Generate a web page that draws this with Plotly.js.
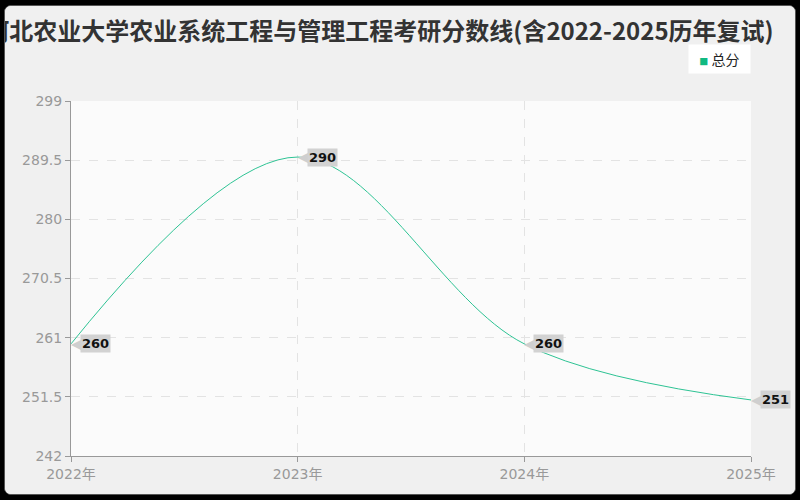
<!DOCTYPE html>
<html>
<head>
<meta charset="utf-8">
<script src="https://cdn.plot.ly/plotly-3.0.1.min.js"></script>
<style>
  html, body { margin: 0; padding: 0; background: #000; }
  #card {
    position: absolute; left: 4px; top: 5px; width: 790px; height: 488px;
    background: #f0f0f0; border: 1px solid #555; border-radius: 7px; overflow: hidden;
  }
  #chart { width: 790px; height: 488px; }
</style>
</head>
<body>
<div id="card"><div id="chart"></div></div>
<script>
// chart data
const years = ['2022年', '2023年', '2024年', '2025年'];
const totalScores = [260, 290, 260, 251];
const yTicks = [242, 251.5, 261, 270.5, 280, 289.5, 299];
const seriesName = '总分';
const titleText = '河北农业大学农业系统工程与管理工程考研分数线(含2022-2025历年复试)';

const lineColor = '#2ec394';
const tickFont = { family: 'DejaVu Sans, Noto Sans CJK SC', size: 14, color: '#999' };

const traces = [
    {
        x: years,
        y: totalScores,
        type: 'scatter',
        mode: 'lines',
        name: seriesName,
        line: { color: lineColor, width: 1, shape: 'spline', smoothing: 1 },
        showlegend: false,
        hoverinfo: 'skip'
    }
];

// value labels: grey tag with a pointer on the left
const annotations = [];
years.forEach((yr, i) => {
    annotations.push({
        x: yr, y: totalScores[i], xref: 'x', yref: 'y',
        text: '◀', showarrow: false, xanchor: 'left', yanchor: 'middle',
        xshift: -2, yshift: 0,
        font: { size: 15, color: '#cfcfcf', family: 'DejaVu Sans' }
    });
    annotations.push({
        x: yr, y: totalScores[i], xref: 'x', yref: 'y',
        text: '<b>' + totalScores[i] + '</b>', showarrow: false,
        xanchor: 'left', yanchor: 'middle', xshift: 9,
        bgcolor: '#d2d2d2', borderpad: 1,
        font: { size: 13, color: '#111', family: 'DejaVu Sans' }
    });
});

// legend box (top right)
annotations.push({
    xref: 'paper', yref: 'paper', x: 1, y: 1.16,
    xanchor: 'right', yanchor: 'top', showarrow: false,
    text: '  <span style="color:#10b981;font-size:9px">■</span> ' + seriesName + '  ',
    bgcolor: '#ffffff', borderpad: 4,
    font: { family: 'Noto Sans CJK SC', size: 14, color: '#222' }
});

const layout = {
    width: 790, height: 488,
    margin: { l: 66, r: 44, t: 95, b: 38 },
    paper_bgcolor: '#f0f0f0',
    plot_bgcolor: '#fbfbfb',
    title: {
        text: titleText,
        x: 0.474, xanchor: 'center', y: 0.947, yanchor: 'middle',
        font: { family: 'Noto Sans CJK SC', size: 24, color: '#333', weight: 'bold' }
    },
    xaxis: {
        type: 'category',
        range: [0, 3],
        showgrid: true, gridcolor: '#e3e3e3', griddash: 'dash',
        showline: true, linecolor: '#999', linewidth: 1,
        ticks: 'outside', ticklen: 5, tickcolor: '#999',
        tickfont: tickFont, zeroline: false, fixedrange: true
    },
    yaxis: {
        range: [242, 299],
        tickvals: yTicks,
        ticktext: yTicks.map(String),
        showgrid: true, gridcolor: '#e3e3e3', griddash: 'dash',
        showline: true, linecolor: '#999', linewidth: 1,
        ticks: 'outside', ticklen: 5, tickcolor: '#999',
        tickfont: tickFont, zeroline: false, fixedrange: true
    },
    showlegend: false,
    annotations: annotations
};

Plotly.newPlot('chart', traces, layout, { displayModeBar: false, staticPlot: true });
</script>
</body>
</html>
